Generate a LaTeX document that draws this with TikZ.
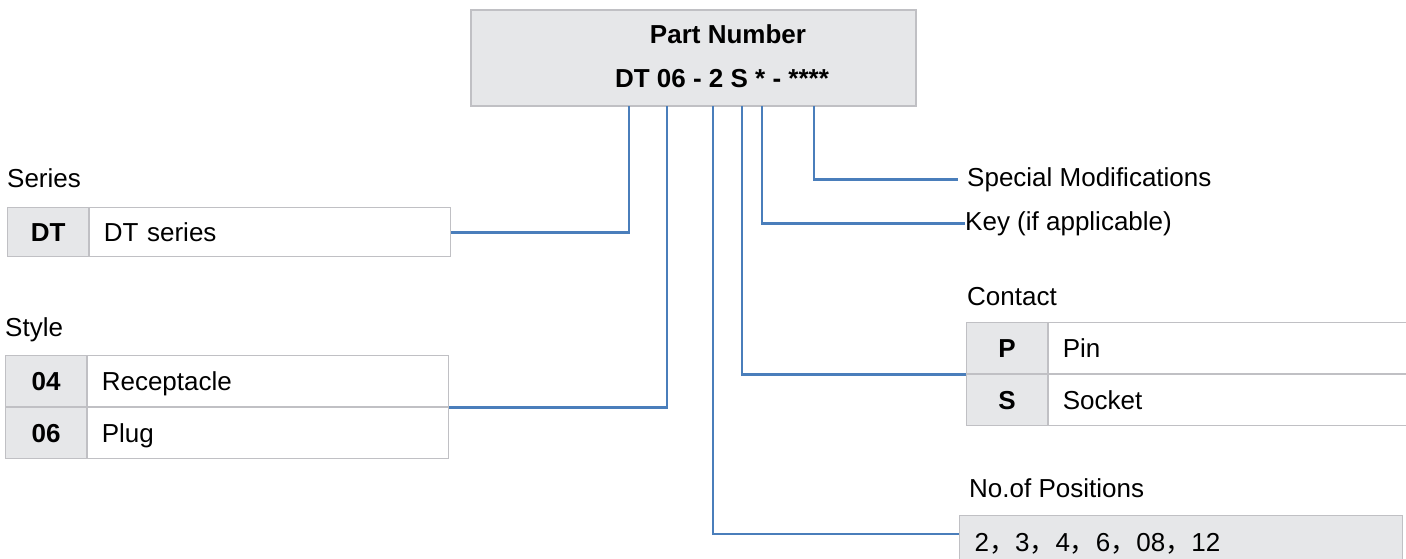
\documentclass[tikz,border=0pt]{standalone}
\usepackage{fontspec}
\setmainfont{Liberation Sans}
\newfontfamily\cjk{Noto Sans CJK SC}
\definecolor{linkblue}{HTML}{4A7EBB}
\definecolor{cellgray}{HTML}{E6E7E9}
\definecolor{edgegray}{HTML}{C0C0C4}
\begin{document}
\begin{tikzpicture}[x=1pt, y=-1pt, font=\fontsize{26}{30}\selectfont]
  \tikzset{
    box/.style={draw=edgegray, line width=1.2pt, inner sep=0pt, text height=19pt, text depth=0pt},
    code/.style={box, fill=cellgray, font=\fontsize{26}{30}\selectfont\bfseries, minimum width=81pt, minimum height=#1},
    desc/.style={box, fill=white, align=left, inner xsep=14pt, minimum height=#1},
    lbl/.style={inner sep=0pt, anchor=base west},
    conn/.style={draw=linkblue, line width=2.8pt}
  }
  \useasboundingbox (0,0) rectangle (1406,558);
  \clip (0,0) rectangle (1406,558);

  % part number
  \node[box, fill=cellgray, minimum width=445pt, minimum height=96pt] (pn) at (693.5,58) {};
  \node[inner sep=0pt, anchor=base, font=\fontsize{26}{30}\selectfont\bfseries] (pnT) at (728,43) {Part Number};
  \node[inner sep=0pt, anchor=base, font=\fontsize{26}{30}\selectfont\bfseries] (pnC) at (722,87) {DT 06 - 2 S * - ****};
  \foreach \nm/\x in {tDT/629, tSt/667, tPos/713, tCon/742, tKey/762, tSpm/814}
    \coordinate (\nm) at (\x,106);

  % series
  \node[lbl] (serL) at (7,187) {Series};
  \node[code=49pt, anchor=north west] (serC) at (7,207) {DT};
  \node[desc=49pt, text width=333pt, anchor=north west] (serD) at (serC.north east) {DT series};

  % style
  \node[lbl] (stL) at (5,336) {Style};
  \node[code=51pt, anchor=north west] (st4) at (5,355) {04};
  \node[desc=51pt, text width=333pt, anchor=north west] (stA) at (st4.north east) {Receptacle};
  \node[code=51pt, anchor=north west] (st6) at (st4.south west) {06};
  \node[desc=51pt, text width=333pt, anchor=north west] (stB) at (st6.north east) {Plug};

  % contact
  \node[lbl] (ctL) at (967,305) {Contact};
  \node[code=51pt, anchor=north west] (ctP) at (966,322) {P};
  \node[desc=51pt, text width=380pt, anchor=north west] (ctA) at (ctP.north east) {Pin};
  \node[code=51pt, anchor=north west] (ctS) at (ctP.south west) {S};
  \node[desc=51pt, text width=380pt, anchor=north west] (ctB) at (ctS.north east) {Socket};

  % positions
  \node[lbl] (posL) at (969,497) {No.of Positions};
  \node[box, fill=cellgray, align=left, text width=413pt, inner xsep=15pt, minimum height=52pt, anchor=north west] (pos) at (959,515)
    {2{\cjk ，}3{\cjk ，}4{\cjk ，}6{\cjk ，}08{\cjk ，}12};
  \coordinate (posIn) at (959,534);

  % key and modifications
  \node[lbl] (spm) at (967,186) {Special Modifications};
  \node[lbl] (key) at (965,230) {Key (if applicable)};

  % connectors
  \draw[conn] (tDT) |- (serD.east);
  \draw[conn] (tSt) |- (stA.south east);
  \draw[conn] (tPos) |- (posIn);
  \draw[conn] (tCon) |- (ctP.south west);
  \draw[conn] (tKey) |- (key.west);
  \draw[conn] (tSpm) |- ([xshift=-9pt]spm.west);
\end{tikzpicture}
\end{document}
